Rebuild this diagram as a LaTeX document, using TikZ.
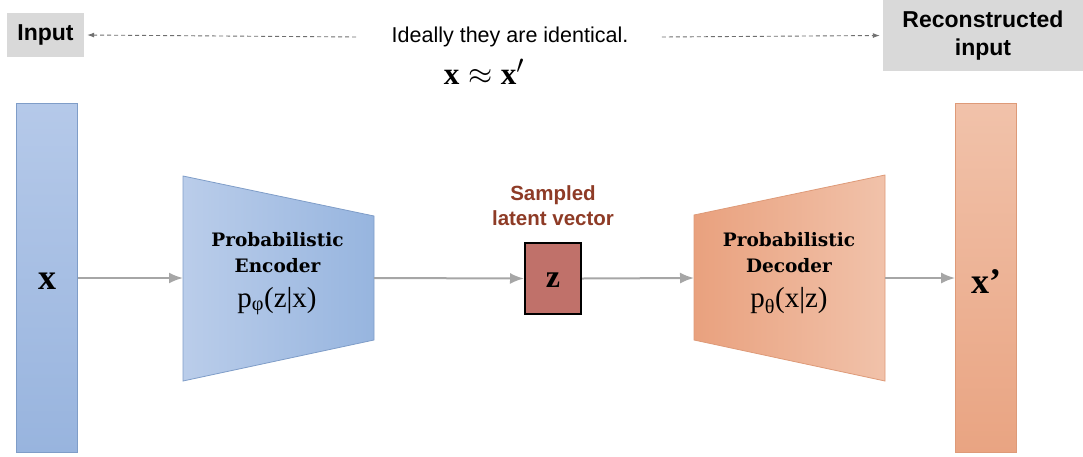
\documentclass[tikz,border=0pt]{standalone}
\usepackage{graphicx}
\usepackage{fontspec}
\setmainfont{Liberation Serif}
\newfontfamily\labelsans{Liberation Sans}
\newfontfamily\heavyserif{DejaVu Serif}
\usetikzlibrary{arrows.meta}

\definecolor{boxgray}{HTML}{D9D9D9}
\definecolor{flowgray}{HTML}{A6A6A6}
\definecolor{hintgray}{HTML}{6F6F6F}
\definecolor{bluetop}{HTML}{B5C9E9}
\definecolor{bluebot}{HTML}{98B4DE}
\definecolor{blueedge}{HTML}{7F9DC8}
\definecolor{encleft}{HTML}{BACDEA}
\definecolor{encright}{HTML}{97B5DF}
\definecolor{zred}{HTML}{C0716A}
\definecolor{zbrown}{HTML}{8E3B26}
\definecolor{decleft}{HTML}{E9A17E}
\definecolor{decright}{HTML}{F1C2AA}
\definecolor{orangeedge}{HTML}{DE9A78}
\definecolor{orangetop}{HTML}{F1C2AA}
\definecolor{orangebot}{HTML}{E9A482}

\tikzset{
  flow/.style={->,draw=flowgray,line width=2pt},
  hint/.style={-{Latex[length=7pt,width=5pt]},draw=hintgray,line width=0.9pt,dash pattern=on 4pt off 3pt},
  tag/.style={fill=boxgray,inner sep=0pt,align=center,font=\labelsans\bfseries\fontsize{23}{28}\selectfont},
  bar/.style={minimum width=61pt,minimum height=349pt,inner sep=0pt,line width=0.8pt},
  vec/.style={font=\bfseries\fontsize{36}{36}\selectfont},
  title/.style={align=center,font=\heavyserif\bfseries\fontsize{18.5}{26}\selectfont},
  formula/.style={font=\fontsize{29}{30}\selectfont}
}

\begin{document}
\begin{tikzpicture}[x=1pt,y=-1pt,>={Latex[length=14pt,width=11pt]}]
\useasboundingbox (0,0) rectangle (1083,456);
% top row
\node[tag,minimum width=77pt,minimum height=44pt] (input) at (45.5,35) {Input};
\node[tag,minimum width=200pt,minimum height=71pt] (recon) at (983,35.5) {Reconstructed\\input};
\node[font=\labelsans\fontsize{21.5}{24}\selectfont] (ideal) at (510,37) {Ideally they are identical.};
\node[font=\fontsize{24.88}{30}\selectfont] (approx) at (484,72) {\scalebox{1.25}{$\mathbf{x}\approx\mathbf{x}'$}};
\draw[hint] ([xshift=-32pt]ideal.west) -- ([xshift=3pt]input.east);
\draw[hint] ([xshift=30pt]ideal.east) -- ([xshift=-3pt]recon.west);

% input and output vectors
\node[bar,draw=blueedge,top color=bluetop,bottom color=bluebot] (xin) at (47,278) {};
\node[bar,draw=orangeedge,top color=orangetop,bottom color=orangebot] (xout) at (986,278) {};
\node[vec] (xinlabel) at (47,281) {x};
\node[vec] (xoutlabel) at (986,282) {x’};

% encoder
\shadedraw[left color=encleft,right color=encright,draw=blueedge,line width=0.8pt]
  (183,176) -- (374,216) -- (374,340) -- (183,381) -- cycle;
\coordinate (encin) at (183,278);
\coordinate (encout) at (374,278);
\node[title] (enctitle) at (277.5,253) {Probabilistic\\Encoder};
\node[formula] (encform) at (277,301) {p\textsubscript{φ}(z|x)};

% latent
\node[draw=black,line width=2pt,fill=zred,minimum width=56pt,minimum height=71pt] (z) at (553,278.5) {};
\node[font=\bfseries\fontsize{32}{32}\selectfont] (zlabel) at (553,280) {z};
\node[align=center,text=zbrown,font=\labelsans\bfseries\fontsize{20.5}{25}\selectfont] (ztitle) at (553,206) {Sampled\\latent vector};

% decoder
\shadedraw[left color=decleft,right color=decright,draw=orangeedge,line width=0.8pt]
  (694,215) -- (885,175) -- (885,381) -- (694,340) -- cycle;
\coordinate (decin) at (694,278);
\coordinate (decout) at (885,278);
\node[title] (dectitle) at (789,253) {Probabilistic\\Decoder};
\node[formula] (decform) at (789,301) {p\textsubscript{θ}(x|z)};

% data flow
\draw[flow] (xin.east) -- (encin);
\draw[flow] (encout) -- (z.west);
\draw[flow] (z.east) -- (decin);
\draw[flow] (decout) -- (xout.west);
\end{tikzpicture}
\end{document}
